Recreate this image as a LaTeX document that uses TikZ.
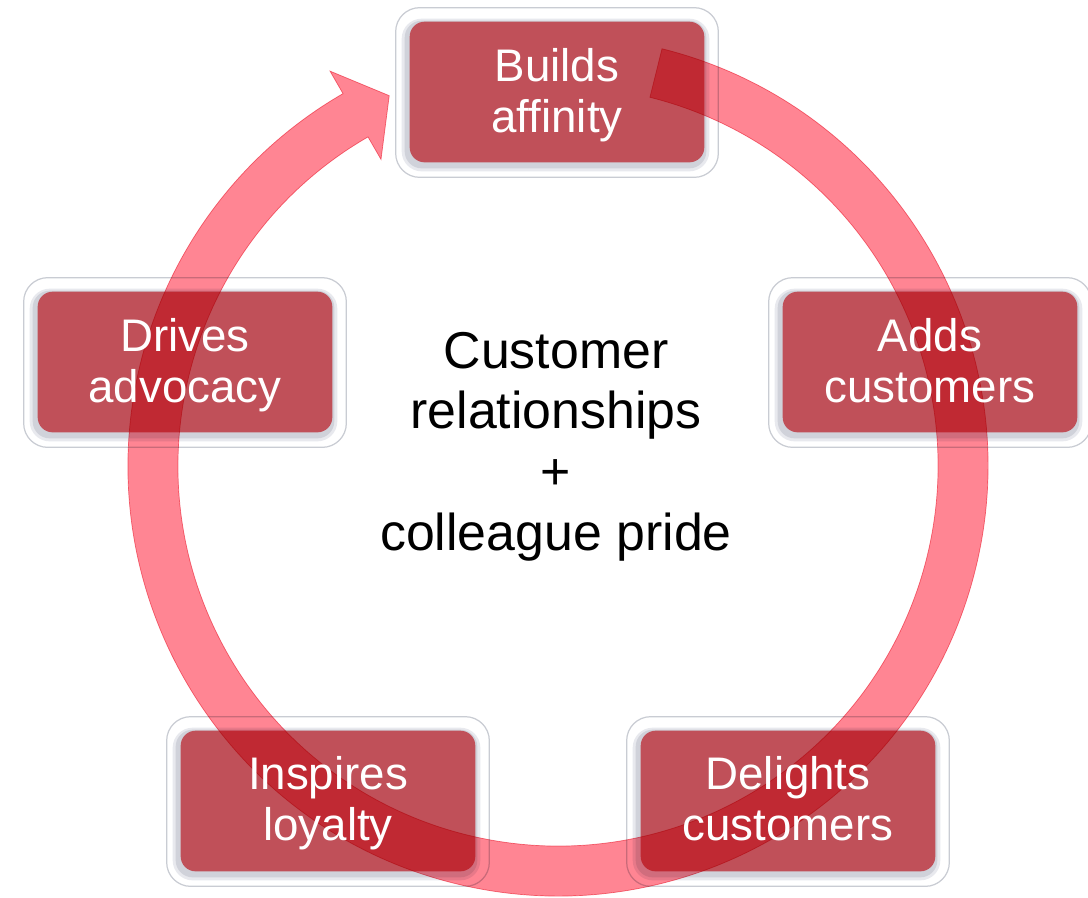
\documentclass[tikz,border=0pt]{standalone}
\usepackage{fontspec}
\setmainfont{Liberation Sans}
\pgfdeclarelayer{cards}
\pgfdeclarelayer{loop}
\pgfsetlayers{cards,loop,main}
\definecolor{cardred}{RGB}{192,80,89}
\definecolor{looppink}{RGB}{255,133,147}
\definecolor{loopedge}{RGB}{242,126,140}
\definecolor{frameline}{RGB}{201,204,211}
\definecolor{shadeA}{RGB}{232,233,238}
\definecolor{shadeB}{RGB}{208,210,218}
\begin{document}
\begin{tikzpicture}[x=0.02cm, y=-0.02cm,
  cardfill/.style={minimum width=5.88cm, minimum height=2.8cm, rounded corners=0.3cm,
                   fill=cardred, inner sep=0pt},
  cardframe/.style={fill=white, draw=frameline, line width=0.7pt, rounded corners=0.48cm},
  cardshadeA/.style={fill=shadeA, rounded corners=0.4cm},
  cardshadeB/.style={fill=shadeB, rounded corners=0.34cm},
  cardtext/.style={text=white, align=center, font=\fontsize{26}{29}\selectfont},
  hubtext/.style={text=black, align=center, font=\fontsize{29.5}{34.5}\selectfont}]

\useasboundingbox (0,0) rectangle (1088,897);

% rounded cards with their bevelled white frames
\begin{pgfonlayer}{cards}
  \node[cardfill] (f1) at (557,92)  {};
  \node[cardfill] (f2) at (930,362) {};
  \node[cardfill] (f3) at (788,801) {};
  \node[cardfill] (f4) at (328,801) {};
  \node[cardfill] (f5) at (185,362) {};
  \foreach \c in {f1,f2,f3,f4,f5}{
    \draw[cardframe] ([shift={(-14,-14)}]\c.north west) rectangle ([shift={(14,15)}]\c.south east);
    \fill[cardshadeA] ([shift={(-8,-3)}]\c.north west) rectangle ([shift={(5,9)}]\c.south east);
    \fill[cardshadeB] ([shift={(-5,-1)}]\c.north west) rectangle ([shift={(2,6)}]\c.south east);
    \fill[cardred, rounded corners=0.3cm] (\c.north west) rectangle (\c.south east);
  }
\end{pgfonlayer}

% circular arrow running clockwise round the cards
\begin{pgfonlayer}{loop}
\begin{scope}[blend mode=multiply, shift={(558,466)}]
  \filldraw[fill=looppink, draw=loopedge, line width=0.4pt]
    (-76:430) arc[start angle=-76, end angle=240, radius=430]
    -- (240:456) -- (245.5:407) -- (240:354) -- (240:380)
    arc[start angle=240, end angle=-76, radius=380] -- cycle;
\end{scope}
\end{pgfonlayer}

% card labels
\node[cardtext] (b1) at (557,97)  {Builds\strut\\affinity\strut};
\node[cardtext] (b2) at (930,367) {Adds\strut\\customers\strut};
\node[cardtext] (b3) at (788,805) {Delights\strut\\customers\strut};
\node[cardtext] (b4) at (328,805) {Inspires\strut\\loyalty\strut};
\node[cardtext] (b5) at (185,367) {Drives\strut\\advocacy\strut};

% centre statement
\node[hubtext] (hub) at (556,447)
  {Customer\strut\\relationships\strut\\+\strut\\colleague pride\strut};
\end{tikzpicture}
\end{document}
